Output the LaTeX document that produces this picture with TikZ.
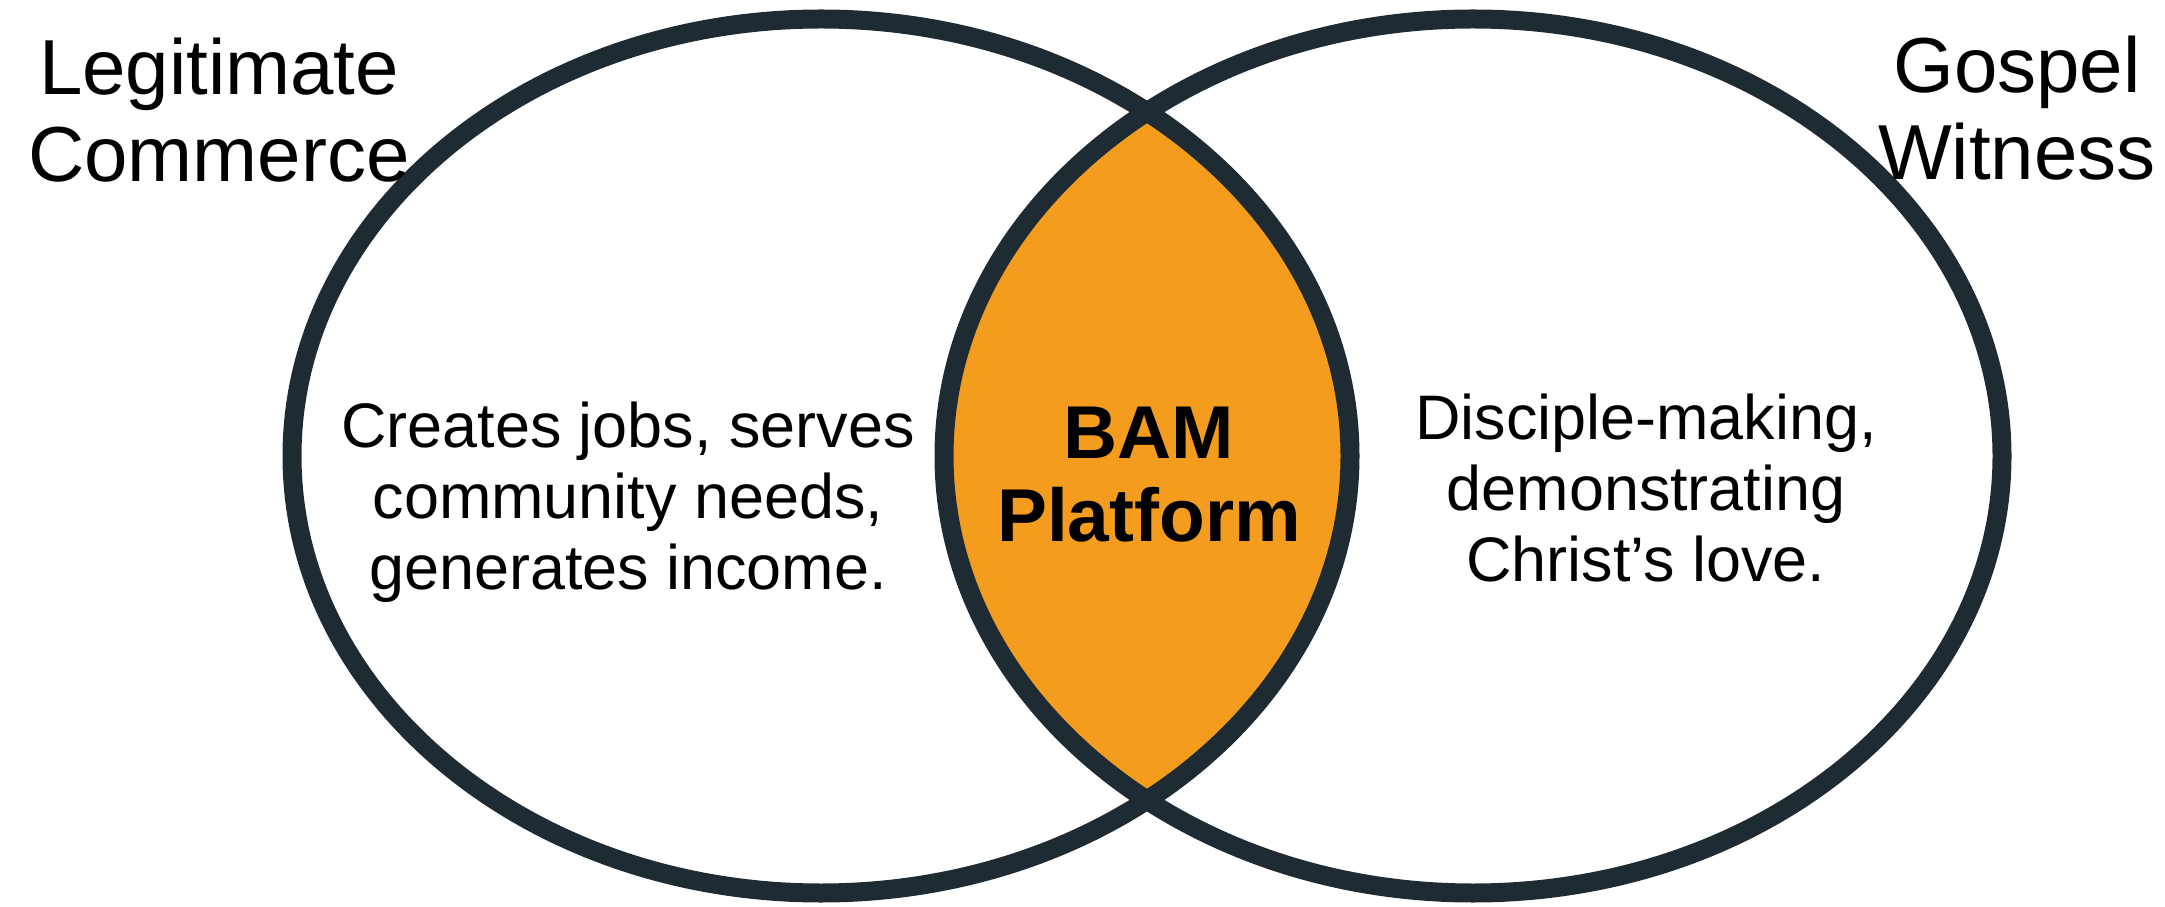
\documentclass[tikz,border=0pt]{standalone}
\usepackage{fontspec}
\setmainfont{Liberation Sans}
\usetikzlibrary{positioning}
\definecolor{ringcol}{HTML}{1F2B33}
\definecolor{lenscol}{HTML}{F39C1E}
\begin{document}
\begin{tikzpicture}[line cap=round,line join=round,x=1.0cm,y=1.0cm,
  ring/.style={line width=0.19cm,color=ringcol},
  setlabel/.style={anchor=north,inner sep=0pt,align=center,font=\fontsize{22.2}{24.8}\selectfont},
  settext/.style={anchor=north,inner sep=0pt,align=center,font=\fontsize{17.9}{20.2}\selectfont},
  lenstext/.style={anchor=north,inner sep=0pt,align=center,font=\fontsize{21.3}{23.6}\selectfont\bfseries}]
\useasboundingbox (0.,0.) rectangle (21.65,-9.07);
%\fill[white] (0.,0.) rectangle (21.65,-9.07);
\begin{scope}
\clip (8.21,-4.56) ellipse (5.29 and 4.37);
\fill[lenscol] (14.73,-4.56) ellipse (5.29 and 4.37);
\end{scope}
\draw [ring] (8.21,-4.56) ellipse (5.29 and 4.37);
\draw [ring] (14.73,-4.56) ellipse (5.29 and 4.37);
\node[setlabel] (commerce) at (2.19,-0.37) {Legitimate\\Commerce};
\node[setlabel] (witness) at (20.17,-0.35) {Gospel\\Witness};
\node[settext] (business) at (6.28,-4.01) {Creates jobs, serves\\community needs,\\generates income.};
\node[settext] (mission) at (16.46,-3.93) {Disciple-making,\\demonstrating\\Christ’s love.};
\node[lenstext] (bam) at (11.49,-4.06) {BAM\\Platform};
\end{tikzpicture}
\end{document}
